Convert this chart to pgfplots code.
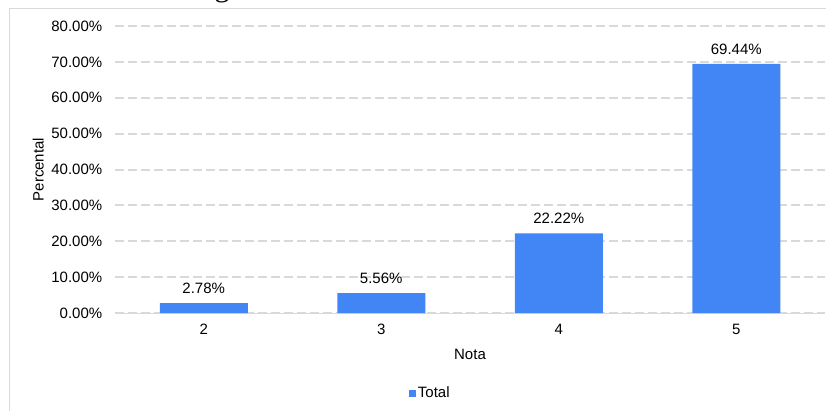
\documentclass[border=0pt]{standalone}
\usepackage{pgfplots}
\pgfplotsset{compat=1.18}
\usepackage{fontspec}
\setmainfont{Liberation Sans}
\newfontfamily\serif{Liberation Serif}
\definecolor{barblue}{HTML}{4285F4}
\definecolor{gridgray}{HTML}{D9D9D9}
\begin{document}
\begin{tikzpicture}[x=1pt,y=1pt]
\clip (0,0) rectangle (826,410);
\useasboundingbox (0,0) rectangle (826,410);
% chart frame, cut at the picture edge
\draw[gridgray,line width=1pt] (9,-10) -- (9,401) -- (900,401);
\node[font=\serif\fontsize{30}{32}\selectfont,anchor=base] at (222,413) {g};
\begin{axis}[
    at={(115pt,97pt)}, anchor=south west,
    scale only axis, width=710pt, height=287pt,
    xmin=-0.5, xmax=3.5, ymin=0, ymax=80,
    xtick={0,1,2,3}, xticklabels={2,3,4,5},
    minor xtick={-0.5,0.5,1.5,2.5,3.5},
    ytick={0,10,...,80},
    yticklabel={\pgfmathprintnumber[fixed,fixed zerofill,precision=2]{\tick}\%},
    /pgf/number format/assume math mode=true,
    tick label style={font=\fontsize{15}{17}\selectfont},
    axis lines*=left,
    x axis line style={gridgray,line width=1pt,-},
    y axis line style={draw=none},
    xtick style={draw=none}, ytick style={draw=none},
    minor x tick style={gridgray,line width=1pt},
    tick align=outside, minor tick length=5pt,
    yticklabel style={xshift=-5pt},
    xticklabel style={yshift=-3pt},
    ymajorgrids, grid style={gridgray,line width=2pt,dash pattern=on 9pt off 4pt},
    xlabel={Nota}, ylabel={Percental},
    label style={font=\fontsize{15}{17}\selectfont},
    xlabel style={at={(axis description cs:0.5,-0.143)},anchor=center},
    ylabel style={at={(axis description cs:-0.108,0.5)},anchor=center},
    legend style={at={(axis description cs:0.444,-0.279)},anchor=center,draw=none,
        font=\fontsize{15}{17}\selectfont},
    legend image code/.code={\fill[barblue] (2pt,-3.5pt) rectangle (9pt,3.5pt);},
    nodes near coords={\pgfmathprintnumber[fixed,fixed zerofill,precision=2]{\pgfplotspointmeta}\%},
    nodes near coords style={font=\fontsize{15}{17}\selectfont,anchor=south,yshift=6pt},
]
\addplot[ybar, bar width=88pt, fill=barblue, draw=none]
    coordinates {(0,2.78)(1,5.56)(2,22.22)(3,69.44)};
\legend{Total}
\end{axis}
\end{tikzpicture}
\end{document}
